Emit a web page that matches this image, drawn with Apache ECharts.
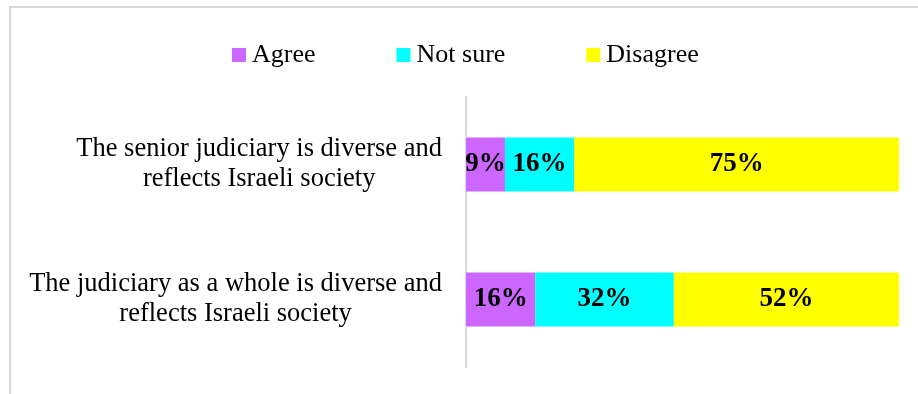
<!DOCTYPE html>
<html>
<head>
<meta charset="utf-8">
<script src="https://cdn.jsdelivr.net/npm/echarts@6/dist/echarts.min.js"></script>
<style>
  html, body { margin: 0; padding: 0; background: #fff; }
  #chart { width: 918px; height: 394px; }
</style>
</head>
<body>
<div id="chart"></div>
<script>
// Survey statements (top to bottom) and the share of each answer, in percent
const statements = [
  'The senior judiciary is diverse and\nreflects Israeli society',
  'The judiciary as a whole is diverse and\nreflects Israeli society'
];
const answerNames = ['Agree', 'Not sure', 'Disagree'];
const agree = [9, 16];
const notSure = [16, 32];
const disagree = [75, 52];

const answerColors = ['#CC66FF', '#00FFFF', '#FFFF00'];
const serifFont = '"Liberation Serif", "Times New Roman", serif';

const chart = echarts.init(document.getElementById('chart'), null, { renderer: 'canvas' });

function stackedSeries(name, values, color) {
  return {
    name: name,
    type: 'bar',
    stack: 'total',
    data: values,
    barWidth: 54,
    itemStyle: { color: color },
    label: {
      show: true,
      position: 'inside',
      formatter: p => p.value + '%',
      color: '#000',
      fontFamily: serifFont,
      fontWeight: 'bold',
      fontSize: 27
    },
    emphasis: { disabled: true }
  };
}

chart.setOption({
  animation: false,
  backgroundColor: '#fff',
  graphic: [{
    type: 'rect',
    shape: { x: 10, y: 7, width: 1000, height: 1000 },
    style: { fill: 'none', stroke: '#d9d9d9', lineWidth: 2 },
    silent: true
  }],
  legend: {
    left: 232,
    top: 42,
    padding: 0,
    itemWidth: 14,
    itemHeight: 14,
    itemGap: 81,
    icon: 'rect',
    data: answerNames,
    textStyle: { fontFamily: serifFont, fontSize: 26, color: '#000', padding: [0, 0, 0, 1] }
  },
  grid: { left: 466, top: 97, width: 433, height: 270, containLabel: false },
  xAxis: {
    type: 'value',
    min: 0,
    max: 100,
    show: false,
    splitLine: { show: false }
  },
  yAxis: {
    type: 'category',
    inverse: true,
    data: statements,
    axisLine: { show: true, lineStyle: { color: '#d9d9d9', width: 2 } },
    axisTick: { show: false },
    axisLabel: {
      margin: 24,
      formatter: v => v.split('\n').map(s => '{c|' + s + '}').join('\n'),
      rich: {
        c: {
          align: 'center',
          fontFamily: serifFont,
          fontSize: 26.5,
          lineHeight: 30,
          color: '#000'
        }
      }
    }
  },
  series: [
    stackedSeries(answerNames[0], agree, answerColors[0]),
    stackedSeries(answerNames[1], notSure, answerColors[1]),
    stackedSeries(answerNames[2], disagree, answerColors[2])
  ]
});
</script>
</body>
</html>
